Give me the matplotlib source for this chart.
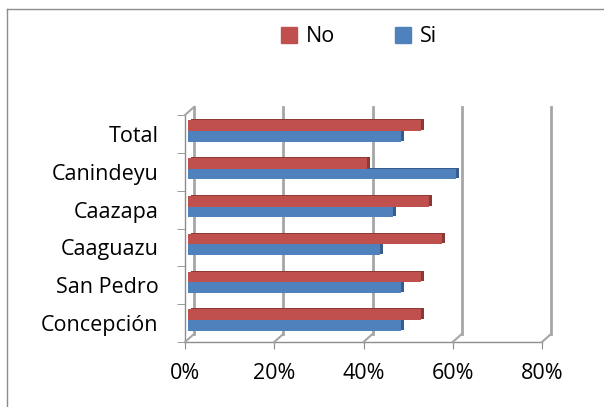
import numpy as np
import matplotlib.pyplot as plt
import matplotlib.transforms as mtransforms
from matplotlib.lines import Line2D
from matplotlib.patches import Patch

plt.rcParams['font.family'] = ['Open Sans', 'DejaVu Sans']

# datos
categorias = ['Concepción', 'San Pedro', 'Caaguazu', 'Caazapa', 'Canindeyu', 'Total']
no = [0.522, 0.522, 0.57, 0.541, 0.40, 0.522]
si = [0.478, 0.478, 0.43, 0.459, 0.60, 0.478]
ticks_x = [0, 0.2, 0.4, 0.6, 0.8]
etiquetas_x = ['0%', '20%', '40%', '60%', '80%']

rojo = '#C0504D'
azul = '#4F81BD'
rojo_osc = '#8C3836'
azul_osc = '#385D8A'
gris = '#A6A6A6'
gris_eje = '#8C8C8C'

fig = plt.figure(figsize=(6.04, 4.07), dpi=100)
ax = fig.add_axes([185 / 604, 65 / 407, 357 / 604, 227 / 407])
ax.set_xlim(0, 0.8)
ax.set_ylim(-0.5, len(categorias) - 0.5)
for s in ax.spines.values():
    s.set_visible(False)

# profundidad (en pixeles)
dx_fondo, dy_fondo = 9, 8
dx_barra, dy_barra = 3, 3

fondo = mtransforms.offset_copy(ax.transData, fig, x=dx_fondo, y=dy_fondo, units='dots')
plano_barra = mtransforms.offset_copy(ax.transData, fig, x=dx_barra, y=dy_barra, units='dots')
lado_barra = mtransforms.offset_copy(ax.transData, fig, x=dx_barra + 3, y=dy_barra + 1, units='dots')

y = np.arange(len(categorias))
alto = 0.28
y0, y1 = -0.5, len(categorias) - 0.5

# lineas de division del fondo
for xv in ticks_x:
    ax.plot([xv, xv], [y0, y1], color=gris, lw=2, transform=fondo, zorder=1, clip_on=False)


def conector(p, color, lw):
    a = ax.transData.transform(p)
    b = a + np.array([dx_fondo, dy_fondo])
    fig.add_artist(Line2D([a[0], b[0]], [a[1], b[1]], color=color, lw=lw,
                          transform=mtransforms.IdentityTransform()))


for xv in ticks_x:
    conector((xv, y0), gris, 1.5)
conector((0, y1), gris, 1.5)

# barras (cara lateral oscura + cara frontal)
ax.barh(y + alto / 2, no, height=alto, color=rojo_osc, transform=lado_barra, zorder=2)
ax.barh(y - alto / 2, si, height=alto, color=azul_osc, transform=lado_barra, zorder=2)
ax.barh(y + alto / 2, no, height=alto, color=rojo, transform=plano_barra, zorder=3)
ax.barh(y - alto / 2, si, height=alto, color=azul, transform=plano_barra, zorder=3)

# ejes frontales
ax.plot([0, 0], [y0, y1], color=gris_eje, lw=1, zorder=4, clip_on=False)
ax.plot([0, 0.8], [y0, y0], color=gris_eje, lw=1, zorder=4, clip_on=False)

ax.set_yticks(y)
ax.set_yticklabels(categorias, fontsize=15.5)
ax.set_yticks(np.arange(len(categorias) + 1) - 0.5, minor=True)
ax.tick_params(axis='y', which='major', length=0, pad=19)
ax.tick_params(axis='y', which='minor', length=6, color=gris_eje)
ax.set_xticks(ticks_x)
ax.set_xticklabels(etiquetas_x, fontsize=15.5)
ax.tick_params(axis='x', length=5, color=gris_eje, pad=10)

# leyenda
manejadores = [Patch(color=rojo), Patch(color=azul)]
fig.legend(manejadores, ['No', 'Si'], loc='center', bbox_to_anchor=(359 / 604, 1 - 37 / 407),
           ncol=2, frameon=False, fontsize=15.5, handlelength=0.75, handleheight=0.75,
           handletextpad=0.4, columnspacing=2.8)

# borde del area del grafico
fig.add_artist(Line2D([7 / 604, 7 / 604], [0, 1 - 9 / 407], color=gris_eje, lw=1))
fig.add_artist(Line2D([7 / 604, 1], [1 - 9 / 407, 1 - 9 / 407], color=gris_eje, lw=1))

fig.savefig('out.png', dpi=100)
